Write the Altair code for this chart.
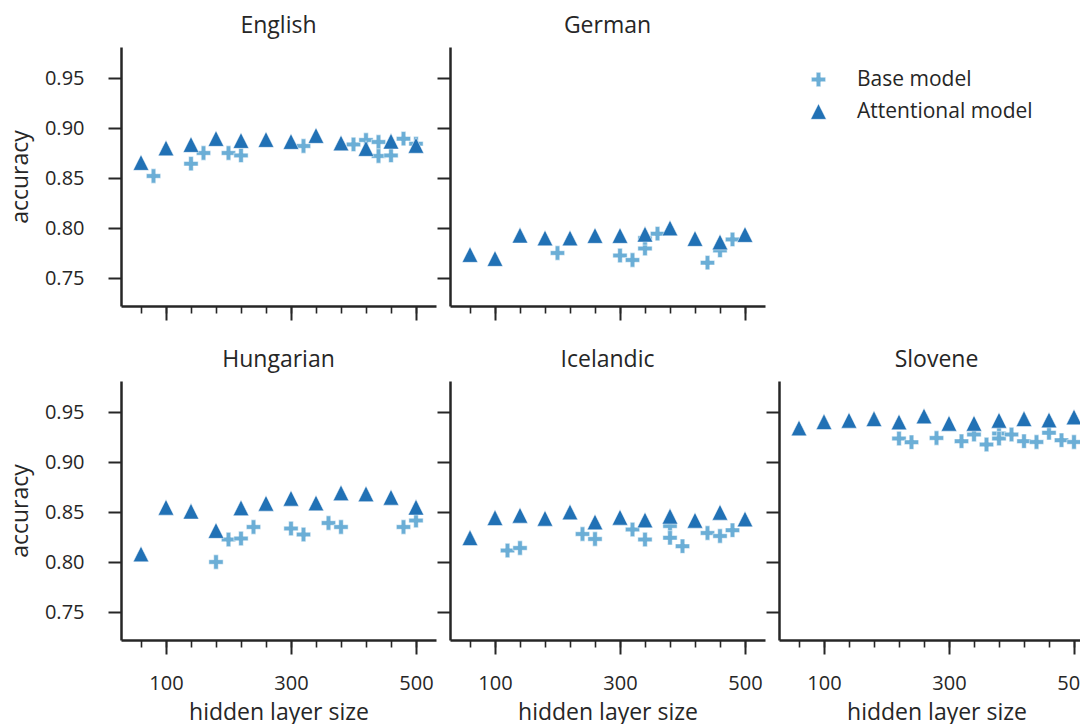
import altair as alt
import pandas as pd

# Hidden layer sizes used for the attentional runs (also the minor tick grid)
HIDDEN = [60, 100, 140, 180, 220, 260, 300, 340, 380, 420, 460, 500]
MAJOR_X = [100, 300, 500]
Y_TICKS = [0.75, 0.80, 0.85, 0.90, 0.95]

# English
english_att = [0.8655, 0.880, 0.8835, 0.8895, 0.8875, 0.8885, 0.8865, 0.8925, 0.885, 0.8795, 0.8868, 0.8826]
english_base_x = [80, 140, 160, 200, 220, 320, 400, 420, 440, 440, 460, 480, 500]
english_base_y = [0.852, 0.8643, 0.875, 0.875, 0.8726, 0.882, 0.8836, 0.888, 0.886, 0.872, 0.8726, 0.8893, 0.8843]

# German
german_att = [0.7735, 0.7695, 0.7928, 0.790, 0.790, 0.7925, 0.7925, 0.7938, 0.800, 0.7895, 0.786, 0.7935]
german_base_x = [200, 300, 320, 340, 340, 360, 440, 460, 480]
german_base_y = [0.775, 0.7725, 0.768, 0.7795, 0.790, 0.7943, 0.7653, 0.7776, 0.7886]

# Hungarian
hungarian_att = [0.808, 0.8547, 0.8508, 0.8315, 0.8542, 0.8587, 0.8637, 0.859, 0.8692, 0.8682, 0.8647, 0.8548]
hungarian_base_x = [180, 200, 220, 240, 300, 320, 360, 380, 480, 500]
hungarian_base_y = [0.800, 0.8225, 0.8235, 0.835, 0.8335, 0.8275, 0.839, 0.835, 0.835, 0.8415]

# Icelandic
icelandic_att = [0.8243, 0.8443, 0.8467, 0.8437, 0.850, 0.840, 0.8447, 0.842, 0.8458, 0.8417, 0.8497, 0.843]
icelandic_base_x = [120, 140, 240, 260, 320, 340, 380, 380, 400, 440, 460, 480]
icelandic_base_y = [0.8115, 0.814, 0.828, 0.823, 0.8325, 0.8225, 0.836, 0.8242, 0.8158, 0.829, 0.826, 0.8318]

# Slovene
slovene_att = [0.934, 0.9403, 0.9417, 0.9433, 0.940, 0.946, 0.9387, 0.9387, 0.9417, 0.9433, 0.942, 0.945]
slovene_base_x = [220, 240, 280, 320, 340, 360, 380, 380, 400, 420, 440, 460, 480, 500]
slovene_base_y = [0.9235, 0.9198, 0.924, 0.9208, 0.9275, 0.9175, 0.9285, 0.9235, 0.9275, 0.9208, 0.920, 0.9292, 0.9218, 0.920]

MODELS = ["Base model", "Attentional model"]
COLORS = ["#6baed6", "#2171b5"]
PLUS = ("M-0.29,-0.91L0.29,-0.91L0.29,-0.29L0.91,-0.29L0.91,0.29L0.29,0.29"
        "L0.29,0.91L-0.29,0.91L-0.29,0.29L-0.91,0.29L-0.91,-0.29L-0.29,-0.29Z")
TRIANGLE = "M0,-1L1,1L-1,1Z"

FONT = "Open Sans"
INK = "#262626"
W, H = 315, 259


def frame(att, base_x, base_y):
    rows = [{"hidden": x, "accuracy": y, "model": MODELS[0]} for x, y in zip(base_x, base_y)]
    rows += [{"hidden": x, "accuracy": y, "model": MODELS[1]} for x, y in zip(HIDDEN, att)]
    return pd.DataFrame(rows)


def panel(name, df, x_labels, y_labels, show_legend=False):
    xscale = alt.Scale(domain=[28, 532], nice=False, zero=False)
    yscale = alt.Scale(domain=[0.722, 0.981], nice=False, zero=False)

    y_axis = alt.Axis(values=Y_TICKS, format=".2f", tickSize=13, tickWidth=2,
                      labels=y_labels, labelPadding=24,
                      title="accuracy" if y_labels else None, titlePadding=12)

    if show_legend:
        leg = alt.Legend(orient="none", legendX=358, legendY=22, title=None,
                         symbolSize=246, labelFontSize=21, labelFont=FONT,
                         labelColor=INK, labelOffset=28, rowPadding=10, padding=0,
                         labelLimit=400,
                         symbolStrokeWidth=0.5, symbolStrokeColor="white")
    else:
        leg = None

    color = alt.Color("model:N", scale=alt.Scale(domain=MODELS, range=COLORS),
                      sort=MODELS, legend=leg)
    shape = alt.Shape("model:N", scale=alt.Scale(domain=MODELS, range=[PLUS, TRIANGLE]),
                      sort=MODELS, legend=leg)

    # minor ticks at every size, no labels
    points = alt.Chart(df).mark_point(
        filled=True, size=246, opacity=1, stroke="white", strokeWidth=0.5
    ).encode(
        x=alt.X("hidden:Q", scale=xscale,
                axis=alt.Axis(values=HIDDEN, tickSize=7, tickWidth=1.6, labels=False,
                              domain=False, title=None, orient="bottom")),
        y=alt.Y("accuracy:Q", scale=yscale, axis=y_axis),
        color=color,
        shape=shape,
        order=alt.Order("order:Q"),
    ).transform_calculate(order="datum.model == 'Base model' ? 0 : 1")

    # major ticks, spine and labels
    major = alt.Chart(df).mark_point(opacity=0).encode(
        x=alt.X("hidden:Q", scale=xscale,
                axis=alt.Axis(values=MAJOR_X, tickSize=14, tickWidth=2, labels=x_labels,
                              labelPadding=19, domain=True,
                              title="hidden layer size" if x_labels else None,
                              titlePadding=8, orient="bottom")),
        y=alt.Y("accuracy:Q", scale=yscale, axis=y_axis),
    )

    return alt.layer(major, points).resolve_axis(x="independent").properties(
        width=W, height=H,
        title=alt.TitleParams(name, fontSize=23, font=FONT, fontWeight="normal",
                              color=INK, offset=9),
    )


english = panel("English", frame(english_att, english_base_x, english_base_y), False, True)
german = panel("German", frame(german_att, german_base_x, german_base_y), False, False, True)
hungarian = panel("Hungarian", frame(hungarian_att, hungarian_base_x, hungarian_base_y), True, True)
icelandic = panel("Icelandic", frame(icelandic_att, icelandic_base_x, icelandic_base_y), True, False)
slovene = panel("Slovene", frame(slovene_att, slovene_base_x, slovene_base_y), True, False)

top = alt.hconcat(english, german, spacing=0).resolve_legend(color="independent", shape="independent")
bottom = alt.hconcat(hungarian, icelandic, slovene, spacing=0).resolve_legend(
    color="independent", shape="independent")

# the right-hand panel runs off the edge of the figure, so the right padding is negative
chart = alt.vconcat(top, bottom, spacing=28).resolve_legend(
    color="independent", shape="independent"
).properties(
    padding={"left": 9, "top": 15, "right": -14, "bottom": 0},
    background="white",
).configure_view(
    strokeWidth=0
).configure_axis(
    grid=False,
    domainColor=INK, domainWidth=2.5,
    tickColor=INK,
    labelFont=FONT, labelFontSize=20, labelColor=INK,
    titleFont=FONT, titleFontSize=23, titleFontWeight="normal", titleColor=INK,
)

chart.save("out.html", embed_options={"renderer": "svg", "actions": False})
